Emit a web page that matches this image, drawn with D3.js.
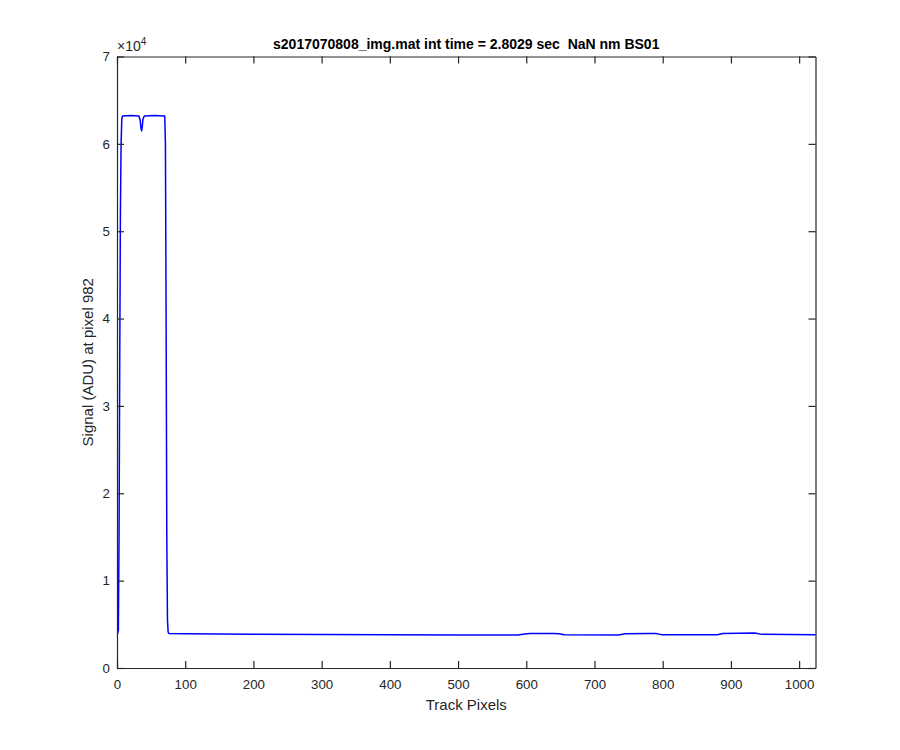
<!DOCTYPE html>
<html>
<head>
<meta charset="utf-8">
<script src="https://cdn.jsdelivr.net/npm/d3@7"></script>
<style>
	body { margin: 0; background: #fff; }
	svg { font-family: "Liberation Sans", Arial, sans-serif; }
</style>
</head>
<body>
<div id="chart"></div>
<script>
'use strict';
(function(){

	// data (track pixel, signal ADU)
	var trackPixels = [0, 1, 2, 3, 4, 5, 6, 7, 8, 20, 32, 34, 35, 36, 37, 38, 40, 55, 70, 71, 72, 73, 74, 75, 76,
		100, 200, 300, 400, 500, 588, 598, 605, 640, 648, 656, 735, 745, 780, 790, 798, 880, 888, 935, 945, 1024];
	var signal = [3950, 3980, 4300, 15000, 35000, 52000, 60000, 62800, 63200, 63250, 63200, 62700, 61900, 61500, 61900, 62800, 63200, 63250, 63200, 60000, 40000, 15000, 5500, 4100, 3960,
		3920, 3860, 3830, 3810, 3790, 3780, 3900, 3950, 3950, 3920, 3800, 3790, 3930, 3950, 3960, 3820, 3800, 3950, 4000, 3850, 3800];
	var xTicks = [0, 100, 200, 300, 400, 500, 600, 700, 800, 900, 1000];
	var yTicks = [0, 10000, 20000, 30000, 40000, 50000, 60000, 70000];
	var titleText = 's2017070808_img.mat int time = 2.8029 sec  NaN nm BS01';

	var width = 900, height = 750;
	var left = 117, right = 815.5, top = 56.5, bottom = 668;
	var axisColor = '#262626';

	var svg = d3.select('#chart')
		.append('svg')
		.attr('width', width)
		.attr('height', height);

	var x = d3.scaleLinear().domain([0, 1024]).range([left, right]);
	var y = d3.scaleLinear().domain([0, 70000]).range([bottom, top]);

	// line
	var points = trackPixels.map(function (p, i) { return [p, signal[i]]; });
	var line = d3.line()
		.x(function (d) { return x(d[0]); })
		.y(function (d) { return y(d[1]); });

	svg.append('path')
		.datum(points)
		.attr('fill', 'none')
		.attr('stroke', '#0000ff')
		.attr('stroke-width', 1.5)
		.attr('stroke-linejoin', 'round')
		.attr('d', line);

	// axes, ticks pointing inward on all four sides
	function styleAxis(g) {
		g.selectAll('.domain').attr('stroke', axisColor).attr('stroke-width', 1.2);
		g.selectAll('.tick line').attr('stroke', axisColor).attr('stroke-width', 1.2);
		g.selectAll('.tick text').attr('fill', axisColor).style('font-size', '13.3px');
	}

	svg.append('g')
		.attr('transform', 'translate(0,' + bottom + ')')
		.call(d3.axisBottom(x).tickValues(xTicks).tickSizeInner(-7).tickSizeOuter(0).tickPadding(12)
			.tickFormat(d3.format('d')))
		.call(styleAxis);

	svg.append('g')
		.attr('transform', 'translate(0,' + top + ')')
		.call(d3.axisTop(x).tickValues(xTicks).tickSizeInner(-7).tickSizeOuter(0).tickFormat(''))
		.call(styleAxis);

	svg.append('g')
		.attr('transform', 'translate(' + left + ',0)')
		.call(d3.axisLeft(y).tickValues(yTicks).tickSizeInner(-7).tickSizeOuter(0).tickPadding(7)
			.tickFormat(function (d) { return d / 10000; }))
		.call(styleAxis);

	svg.append('g')
		.attr('transform', 'translate(' + right + ',0)')
		.call(d3.axisRight(y).tickValues(yTicks).tickSizeInner(-7).tickSizeOuter(0).tickFormat(''))
		.call(styleAxis);

	// exponent label
	var expo = svg.append('text')
		.attr('x', left)
		.attr('y', 51)
		.attr('fill', axisColor)
		.style('font-size', '14px');
	expo.append('tspan').text('\u00d710');
	expo.append('tspan').attr('dy', -6).style('font-size', '10px').text('4');

	// title and labels
	svg.append('text')
		.attr('x', (left + right) / 2)
		.attr('y', 49)
		.attr('text-anchor', 'middle')
		.attr('fill', '#000')
		.style('font-size', '14px')
		.style('font-weight', 'bold')
		.style('white-space', 'pre')
		.text(titleText);

	svg.append('text')
		.attr('x', (left + right) / 2)
		.attr('y', 710)
		.attr('text-anchor', 'middle')
		.attr('fill', axisColor)
		.style('font-size', '15px')
		.text('Track Pixels');

	svg.append('text')
		.attr('transform', 'translate(93,' + (top + bottom) / 2 + ') rotate(-90)')
		.attr('text-anchor', 'middle')
		.attr('fill', axisColor)
		.style('font-size', '15px')
		.text('Signal (ADU) at pixel 982');

}());
</script>
</body>
</html>
